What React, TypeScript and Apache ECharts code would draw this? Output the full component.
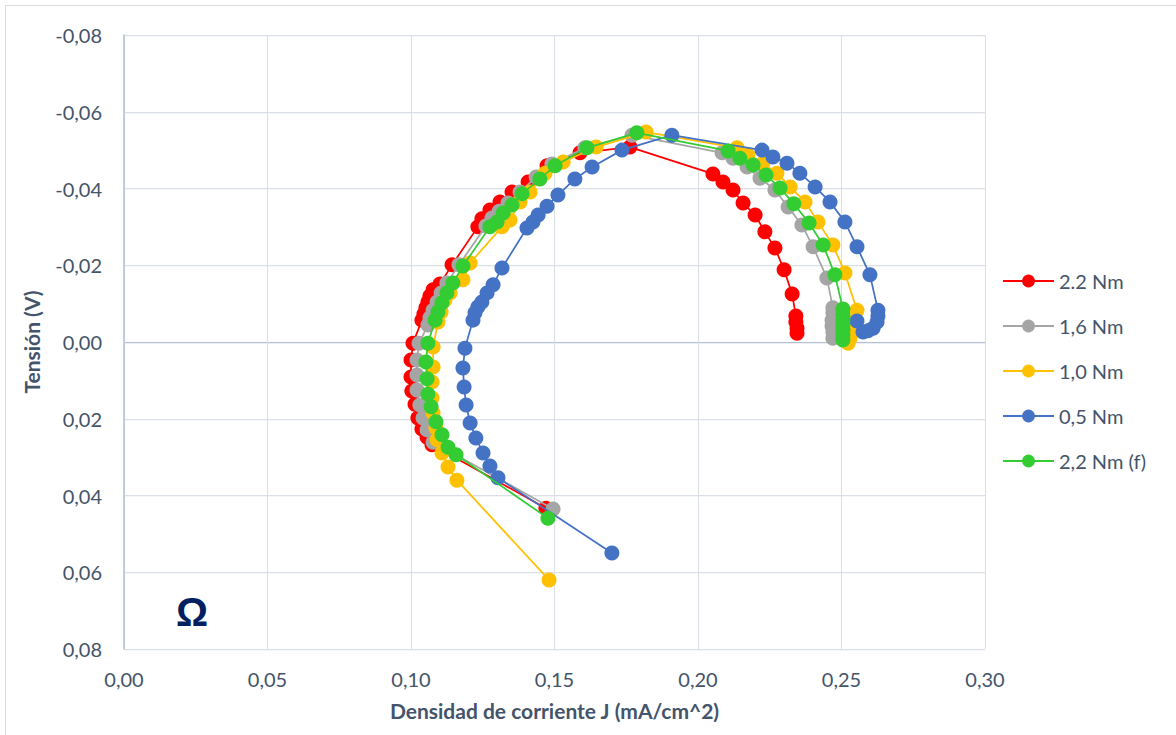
import React, { useEffect, useRef } from "react";
import * as echarts from "echarts";

const seriesNames = ["2.2 Nm", "1,6 Nm", "1,0 Nm", "0,5 Nm", "2,2 Nm (f)"];
const seriesColors = ["#FF0000", "#A5A5A5", "#FFC000", "#4472C4", "#33CC33"];

const xTicks = [0, 0.05, 0.1, 0.15, 0.2, 0.25, 0.3];
const yTicks = [-0.08, -0.06, -0.04, -0.02, 0, 0.02, 0.04, 0.06, 0.08];

const red22: number[][] = [
  [0.2345, -0.0023], [0.2345, -0.0036], [0.2341, -0.0052], [0.2341, -0.0068],
  [0.2328, -0.0125], [0.2300, -0.0188], [0.2268, -0.0245], [0.2233, -0.0287],
  [0.2199, -0.0331], [0.2157, -0.0362], [0.2122, -0.0396], [0.2087, -0.0417],
  [0.2052, -0.0438], [0.1763, -0.0508], [0.1589, -0.0493], [0.1474, -0.0459],
  [0.1408, -0.0417], [0.1352, -0.0391], [0.1310, -0.0365], [0.1275, -0.0344],
  [0.1247, -0.0321], [0.1233, -0.0300], [0.1143, -0.0201], [0.1101, -0.0151],
  [0.1077, -0.0136], [0.1066, -0.0120], [0.1059, -0.0104], [0.1052, -0.0089],
  [0.1045, -0.0073], [0.1038, -0.0057], [0.1007, 0.0003], [0.1000, 0.0047],
  [0.1000, 0.0091], [0.1003, 0.0128], [0.1014, 0.0162], [0.1024, 0.0198],
  [0.1038, 0.0227], [0.1056, 0.0248], [0.1073, 0.0268], [0.1470, 0.0433]
];

const gray16: number[][] = [
  [0.2470, -0.0010], [0.2470, -0.0026], [0.2467, -0.0042], [0.2467, -0.0057],
  [0.2470, -0.0076], [0.2470, -0.0089], [0.2449, -0.0167], [0.2401, -0.0248],
  [0.2362, -0.0305], [0.2314, -0.0352], [0.2268, -0.0396], [0.2216, -0.0427],
  [0.2171, -0.0456], [0.2122, -0.0479], [0.2084, -0.0493], [0.1770, -0.0539],
  [0.1606, -0.0506], [0.1491, -0.0464], [0.1436, -0.0430], [0.1380, -0.0391],
  [0.1338, -0.0362], [0.1307, -0.0341], [0.1282, -0.0323], [0.1261, -0.0302],
  [0.1167, -0.0201], [0.1125, -0.0154], [0.1105, -0.0128], [0.1091, -0.0104],
  [0.1077, -0.0083], [0.1066, -0.0063], [0.1059, -0.0044], [0.1028, 0.0003],
  [0.1021, 0.0047], [0.1021, 0.0086], [0.1021, 0.0125], [0.1031, 0.0164],
  [0.1042, 0.0198], [0.1056, 0.0229], [0.1077, 0.0261], [0.1495, 0.0435]
];

const yellow10: number[][] = [
  [0.2523, 0.0003], [0.2530, -0.0010], [0.2537, -0.0026], [0.2544, -0.0042],
  [0.2547, -0.0057], [0.2554, -0.0083], [0.2512, -0.0180], [0.2470, -0.0253],
  [0.2418, -0.0313], [0.2373, -0.0365], [0.2321, -0.0404], [0.2275, -0.0440],
  [0.2226, -0.0466], [0.2174, -0.0487], [0.2136, -0.0506], [0.1819, -0.0547],
  [0.1645, -0.0508], [0.1530, -0.0469], [0.1467, -0.0440], [0.1415, -0.0391],
  [0.1380, -0.0365], [0.1345, -0.0318], [0.1317, -0.0300], [0.1206, -0.0206],
  [0.1181, -0.0162], [0.1136, -0.0128], [0.1118, -0.0109], [0.1105, -0.0078],
  [0.1094, -0.0052], [0.1077, 0.0013], [0.1077, 0.0065], [0.1073, 0.0104],
  [0.1073, 0.0146], [0.1077, 0.0185], [0.1087, 0.0224], [0.1091, 0.0255],
  [0.1108, 0.0289], [0.1129, 0.0326], [0.1160, 0.0360], [0.1481, 0.0620]
];

const blue05: number[][] = [
  [0.2554, -0.0055], [0.2575, -0.0026], [0.2592, -0.0029], [0.2610, -0.0036],
  [0.2624, -0.0052], [0.2627, -0.0068], [0.2627, -0.0083], [0.2599, -0.0175],
  [0.2554, -0.0248], [0.2512, -0.0313], [0.2460, -0.0365], [0.2408, -0.0404],
  [0.2355, -0.0440], [0.2310, -0.0466], [0.2261, -0.0482], [0.2223, -0.0500],
  [0.1909, -0.0539], [0.1735, -0.0500], [0.1631, -0.0456], [0.1571, -0.0425],
  [0.1512, -0.0383], [0.1474, -0.0354], [0.1443, -0.0331], [0.1425, -0.0313],
  [0.1404, -0.0297], [0.1317, -0.0193], [0.1286, -0.0149], [0.1265, -0.0128],
  [0.1247, -0.0104], [0.1233, -0.0091], [0.1223, -0.0076], [0.1216, -0.0057],
  [0.1188, 0.0016], [0.1181, 0.0068], [0.1185, 0.0117], [0.1192, 0.0164],
  [0.1206, 0.0211], [0.1226, 0.0250], [0.1251, 0.0289], [0.1275, 0.0323],
  [0.1303, 0.0354], [0.1700, 0.0550]
];

const green22f: number[][] = [
  [0.2505, -0.0005], [0.2505, -0.0018], [0.2505, -0.0031], [0.2505, -0.0044],
  [0.2505, -0.0057], [0.2505, -0.0070], [0.2505, -0.0086], [0.2477, -0.0175],
  [0.2436, -0.0253], [0.2387, -0.0310], [0.2334, -0.0360], [0.2286, -0.0401],
  [0.2237, -0.0435], [0.2192, -0.0461], [0.2146, -0.0479], [0.2105, -0.0498],
  [0.1787, -0.0545], [0.1613, -0.0506], [0.1502, -0.0459], [0.1449, -0.0425],
  [0.1387, -0.0386], [0.1352, -0.0357], [0.1321, -0.0336], [0.1300, -0.0313],
  [0.1275, -0.0300], [0.1181, -0.0198], [0.1146, -0.0154], [0.1125, -0.0128],
  [0.1108, -0.0102], [0.1094, -0.0078], [0.1084, -0.0057], [0.1059, 0.0003],
  [0.1052, 0.0052], [0.1056, 0.0096], [0.1059, 0.0136], [0.1070, 0.0169],
  [0.1087, 0.0208], [0.1108, 0.0242], [0.1129, 0.0274], [0.1157, 0.0294],
  [0.1477, 0.0459]
];

const allData = [red22, gray16, yellow10, blue05, green22f];

const FONT = "Lato";
const TEXT_COLOR = "#44546A";

function fmt(v: number): string {
  if (Math.abs(v) < 1e-9) return "0,00";
  return v.toFixed(2).replace(".", ",");
}

export default function App() {
  const ref = useRef<HTMLDivElement>(null);
  useEffect(() => {
    if (!ref.current) return;
    const chart = echarts.init(ref.current, undefined, { renderer: "svg" });
    const gridColors = yTicks.map((t) => (Math.abs(t) < 1e-9 ? "#B4BFD0" : "#D9DEE7"));
    chart.setOption({
      animation: false,
      backgroundColor: "#FFFFFF",
      textStyle: { fontFamily: FONT },
      grid: { left: 124, top: 35, right: 191, bottom: 86, containLabel: false },
      legend: {
        orient: "vertical",
        left: 1002,
        top: 271,
        padding: 0,
        itemWidth: 51,
        itemHeight: 16,
        itemGap: 25,
        data: seriesNames,
        textStyle: { fontFamily: FONT, fontSize: 20, color: TEXT_COLOR, lineHeight: 20 },
      },
      xAxis: {
        type: "value",
        min: xTicks[0],
        max: xTicks[xTicks.length - 1],
        interval: 0.05,
        name: "Densidad de corriente J (mA/cm^2)",
        nameLocation: "middle",
        nameGap: 51,
        nameTextStyle: { fontFamily: FONT, fontSize: 21, fontWeight: "bold", color: TEXT_COLOR },
        axisLine: { show: false },
        axisTick: { show: false },
        axisLabel: { formatter: fmt, fontFamily: FONT, fontSize: 20, color: TEXT_COLOR, margin: 20 },
        splitLine: { show: true, lineStyle: { color: "#D9DEE7", width: 1 } },
      },
      yAxis: {
        type: "value",
        inverse: true,
        min: yTicks[0],
        max: yTicks[yTicks.length - 1],
        interval: 0.02,
        name: "Tensión (V)",
        nameLocation: "middle",
        nameGap: 82,
        nameTextStyle: { fontFamily: FONT, fontSize: 21, fontWeight: "bold", color: TEXT_COLOR },
        axisLine: { show: true, onZero: false, lineStyle: { color: "#B4BFD0", width: 1.5 } },
        axisTick: { show: false },
        axisLabel: { formatter: fmt, fontFamily: FONT, fontSize: 20, color: TEXT_COLOR, margin: 22 },
        splitLine: { show: true, lineStyle: { color: gridColors, width: 1.25 } },
      },
      graphic: [
        {
          type: "rect",
          shape: { x: 5.5, y: 5.5, width: 1300, height: 900 },
          style: { fill: "none", stroke: "#D9D9D9", lineWidth: 1 },
          silent: true,
          z: -10,
        },
        {
          type: "text",
          left: 176,
          top: 592,
          style: {
            text: "Ω",
            fontFamily: "Liberation Sans",
            fontSize: 40,
            fontWeight: "bold",
            fill: "#002060",
          },
          silent: true,
        },
      ],
      series: seriesNames.map((name, i) => ({
        name,
        type: "line",
        data: allData[i],
        symbol: "circle",
        symbolSize: 15,
        showSymbol: true,
        lineStyle: { color: seriesColors[i], width: 1.75 },
        itemStyle: { color: seriesColors[i] },
        emphasis: { disabled: true },
        z: 2 + i,
      })),
    });
    return () => chart.dispose();
  }, []);
  return (
    <div
      ref={ref}
      style={{ position: "fixed", left: 0, top: 0, width: 1176, height: 735 }}
    />
  );
}
